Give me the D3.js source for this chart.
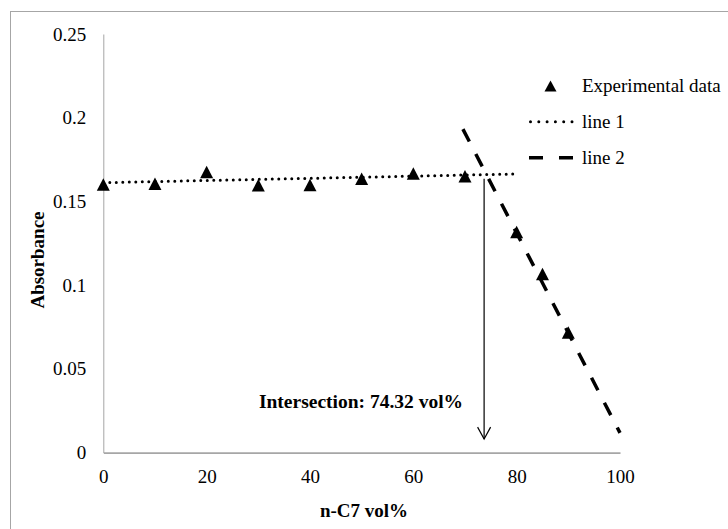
<!DOCTYPE html>
<html>
<head>
<meta charset="utf-8">
<script src="https://cdn.jsdelivr.net/npm/d3@7"></script>
<style>
  html, body { margin: 0; padding: 0; background: #fff; }
  svg { display: block; }
  text { font-family: "Liberation Serif", "Times New Roman", serif; fill: #000; }
</style>
</head>
<body>
<svg id="chart" width="728" height="529"></svg>
<script>
// ---- data ----
const nC7 = [0, 10, 20, 30, 40, 50, 60, 70, 80, 85, 90];
const absorbance = [0.1601, 0.1606, 0.1676, 0.1596, 0.1598, 0.1635, 0.1666, 0.1650, 0.1317, 0.1066, 0.0717];
const line1 = [[0, 0.1612], [80, 0.1664]];
const line2 = [[69.6, 0.1932], [100, 0.0117]];
const arrowX = 73.7, arrowTop = 0.1636, arrowBottom = 0.008;
const xTicks = [0, 20, 40, 60, 80, 100];
const yTicks = [0, 0.05, 0.1, 0.15, 0.2, 0.25];
const yTickLabels = ["0", "0.05", "0.1", "0.15", "0.2", "0.25"];
const legendLabels = ["Experimental data", "line 1", "line 2"];
const annotation = "Intersection: 74.32 vol%";
const xTitle = "n-C7 vol%";
const yTitle = "Absorbance";

// ---- layout ----
const svg = d3.select("#chart");
const x = d3.scaleLinear().domain([0, 100]).range([103.3, 620]);
const y = d3.scaleLinear().domain([0, 0.25]).range([452.5, 34]);

// outer border
svg.append("rect").attr("x", 10.5).attr("y", 11.5).attr("width", 740).attr("height", 540)
  .attr("fill", "none").attr("stroke", "#a6a6a6").attr("stroke-width", 1);

// axes
const gx = svg.append("g").attr("transform", `translate(0,${y(0)})`)
  .call(d3.axisBottom(x).tickValues(xTicks).tickSize(0).tickPadding(17).tickFormat(d3.format("d")));
const gy = svg.append("g").attr("transform", `translate(${x(0)},0)`)
  .call(d3.axisLeft(y).tickValues(yTicks).tickSize(0).tickPadding(17).tickFormat((d, i) => yTickLabels[i]));
gx.select(".domain").attr("stroke", "#a6a6a6").attr("stroke-width", 1.75);
gy.select(".domain").attr("stroke", "#a6a6a6").attr("stroke-width", 1);
[gx, gy].forEach(g => g.selectAll("text")
  .attr("font-family", "Liberation Serif, Times New Roman, serif")
  .attr("font-size", 19).attr("fill", "#000"));

// axis titles
svg.append("text").attr("x", 364).attr("y", 517).attr("text-anchor", "middle")
  .attr("font-size", 19).attr("font-weight", "bold").text(xTitle);
svg.append("text").attr("transform", "translate(44,260) rotate(-90)").attr("text-anchor", "middle")
  .attr("font-size", 19).attr("font-weight", "bold").text(yTitle);

// lines
const lineGen = d3.line().x(d => x(d[0])).y(d => y(d[1]));
svg.append("path").datum(line1).attr("d", lineGen)
  .attr("fill", "none").attr("stroke", "#000").attr("stroke-width", 3)
  .attr("stroke-linecap", "round").attr("stroke-dasharray", "0,6.5");
svg.append("path").datum(line2).attr("d", lineGen)
  .attr("fill", "none").attr("stroke", "#000").attr("stroke-width", 3.5)
  .attr("stroke-dasharray", "14,14");

// markers (triangles)
function tri(cx, cy, w, h) {
  return `M${cx},${cy - h / 2}L${cx + w / 2},${cy + h / 2}L${cx - w / 2},${cy + h / 2}Z`;
}
svg.append("g").selectAll("path").data(nC7.map((v, i) => [v, absorbance[i]]))
  .join("path").attr("d", d => tri(x(d[0]), y(d[1]), 13, 12.5)).attr("fill", "#000");

// arrow
const ax = x(arrowX);
svg.append("line").attr("x1", ax).attr("x2", ax).attr("y1", y(arrowTop)).attr("y2", y(arrowBottom))
  .attr("stroke", "#000").attr("stroke-width", 1.2);
svg.append("path").attr("d", `M${ax - 6.5},${y(arrowBottom) - 12}L${ax},${y(arrowBottom)}L${ax + 6.5},${y(arrowBottom) - 12}`)
  .attr("fill", "none").attr("stroke", "#000").attr("stroke-width", 1.2);

// annotation
svg.append("text").attr("x", ax - 21).attr("y", 407.5).attr("text-anchor", "end")
  .attr("font-size", 19.5).attr("font-weight", "bold").text(annotation);

// legend
const lg = svg.append("g");
const lx0 = 529, lx1 = 573, ltx = 582, ly = [86, 121.7, 157.7];
lg.append("path").attr("d", tri((lx0 + lx1) / 2 - 0.5, ly[0], 12, 11)).attr("fill", "#000");
lg.append("line").attr("x1", lx0 + 1.5).attr("x2", lx1).attr("y1", ly[1]).attr("y2", ly[1])
  .attr("stroke", "#000").attr("stroke-width", 3).attr("stroke-linecap", "round").attr("stroke-dasharray", "0,8.3");
lg.append("line").attr("x1", lx0).attr("x2", lx1).attr("y1", ly[2]).attr("y2", ly[2])
  .attr("stroke", "#000").attr("stroke-width", 3.5).attr("stroke-dasharray", "14,16");
legendLabels.forEach((t, i) => {
  lg.append("text").attr("x", ltx).attr("y", ly[i]).attr("dy", "0.33em")
    .attr("font-size", 19).text(t);
});
</script>
</body>
</html>
